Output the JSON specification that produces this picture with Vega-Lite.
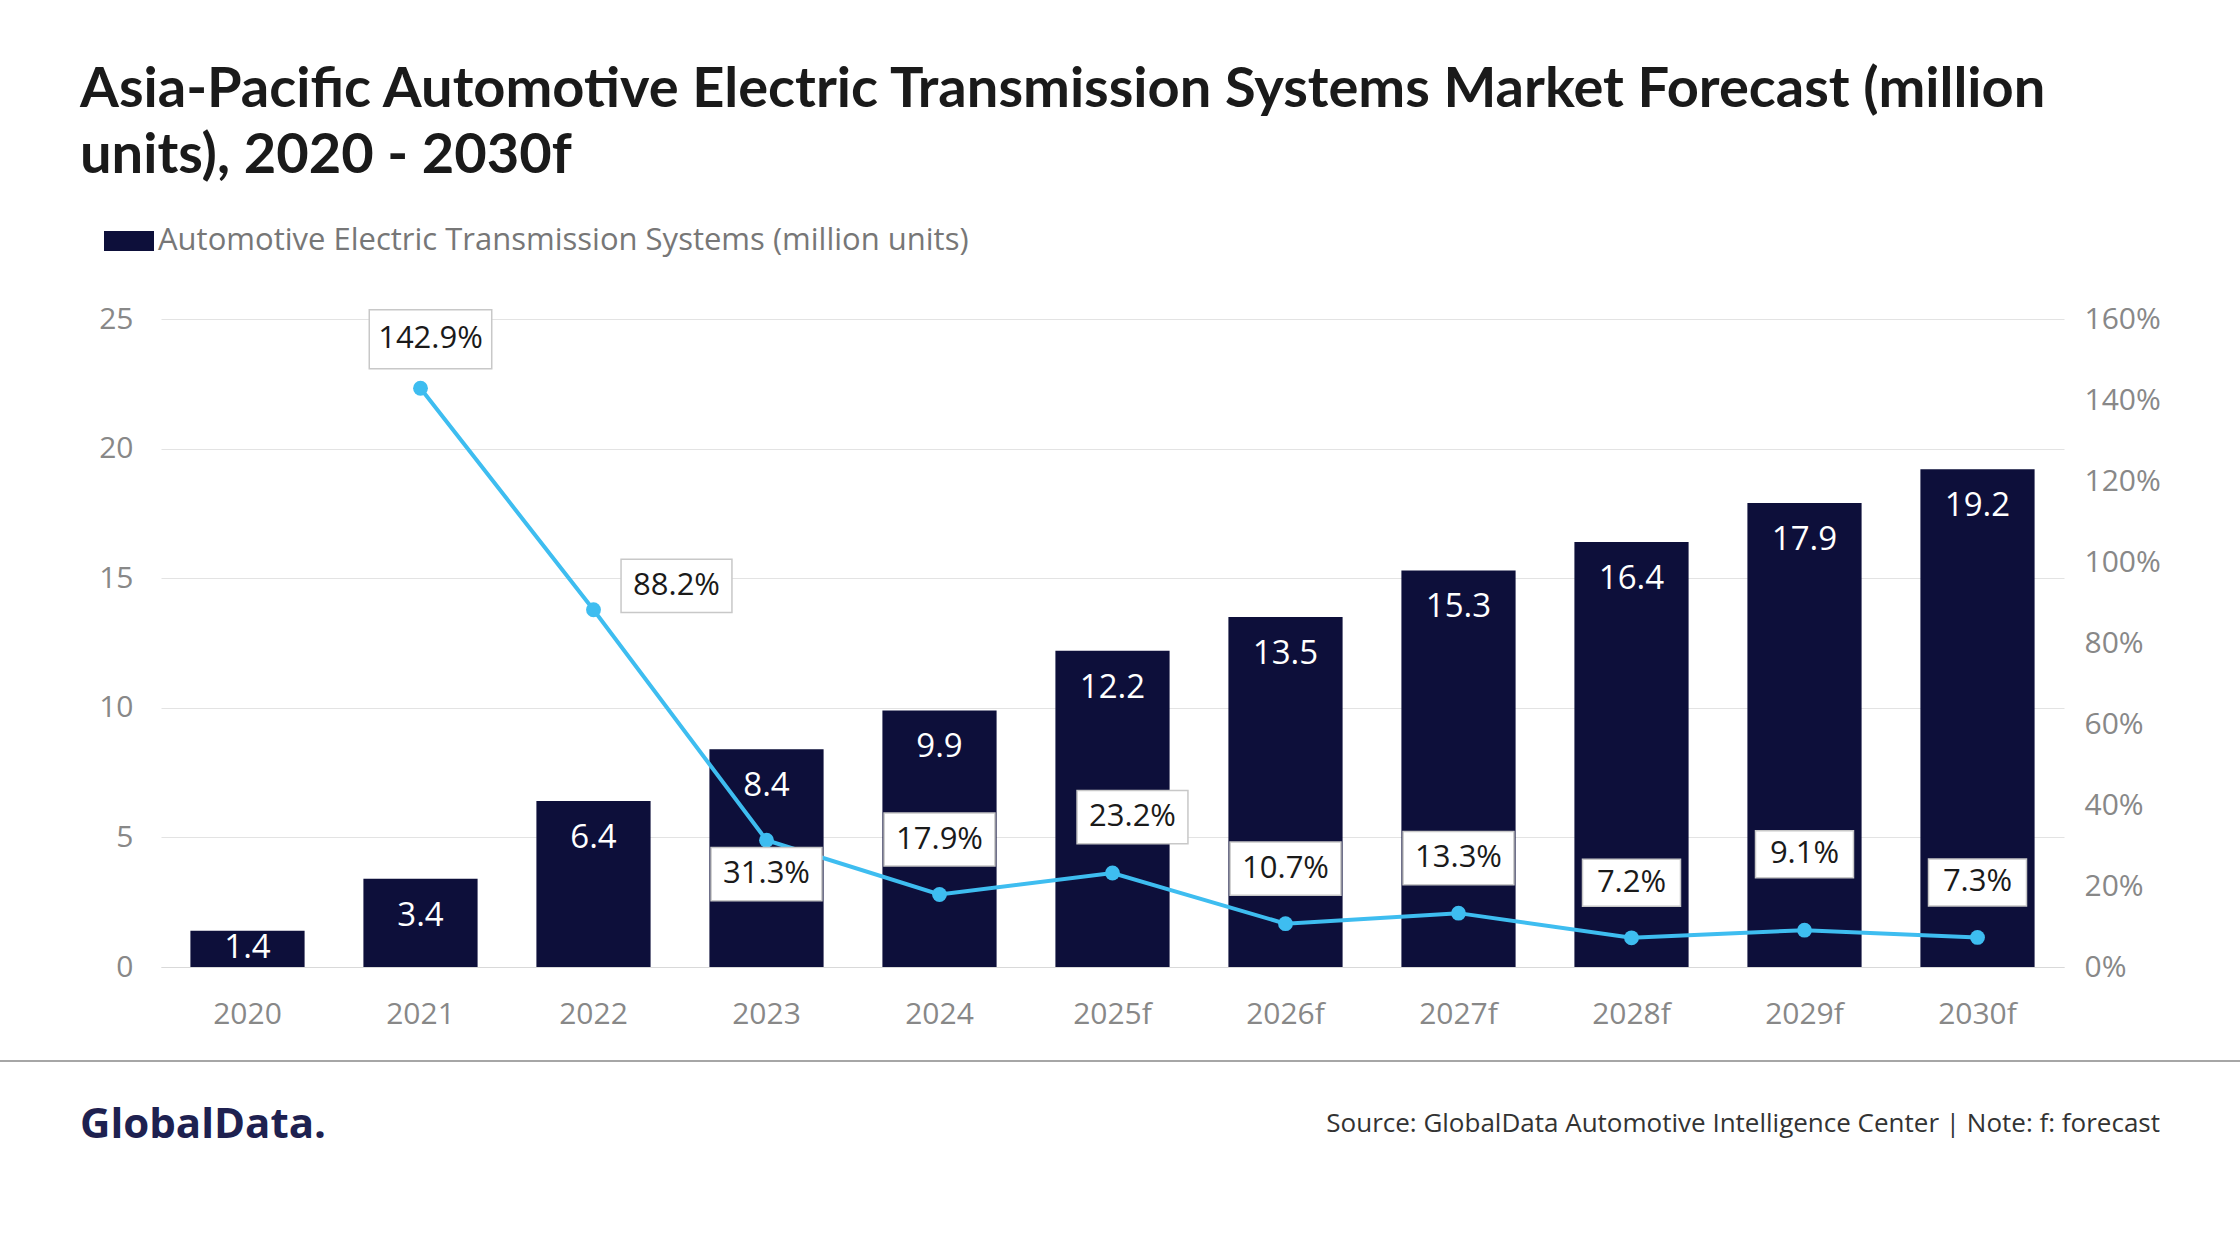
{
  "$schema": "https://vega.github.io/schema/vega-lite/v6.json",
  "width": 1903,
  "height": 648,
  "autosize": "none",
  "padding": {"left": 161, "top": 319, "right": 176, "bottom": 293},
  "background": "white",
  "data": {
    "values": [
      {"year": "2020", "units": 1.4, "growth": null, "lbl": ""},
      {"year": "2021", "units": 3.4, "growth": 142.9, "lbl": "142.9%"},
      {"year": "2022", "units": 6.4, "growth": 88.2, "lbl": "88.2%"},
      {"year": "2023", "units": 8.4, "growth": 31.3, "lbl": "31.3%"},
      {"year": "2024", "units": 9.9, "growth": 17.9, "lbl": "17.9%"},
      {"year": "2025f", "units": 12.2, "growth": 23.2, "lbl": "23.2%"},
      {"year": "2026f", "units": 13.5, "growth": 10.7, "lbl": "10.7%"},
      {"year": "2027f", "units": 15.3, "growth": 13.3, "lbl": "13.3%"},
      {"year": "2028f", "units": 16.4, "growth": 7.2, "lbl": "7.2%"},
      {"year": "2029f", "units": 17.9, "growth": 9.1, "lbl": "9.1%"},
      {"year": "2030f", "units": 19.2, "growth": 7.3, "lbl": "7.3%"}
    ]
  },
  "encoding": {
    "x": {
      "field": "year", "type": "nominal", "sort": null, "title": null,
      "scale": {"paddingInner": 0.34, "paddingOuter": 0.17},
      "axis": {"labelAngle": 0, "ticks": false, "domainColor": "#d9d9d9", "labelPadding": 32, "labelFontSize": 30, "labelColor": "#888888", "labelFont": "Open Sans"}
    }
  },
  "layer": [
    {
      "layer": [
        {
          "mark": {"type": "bar", "color": "#0d0f3a"},
          "encoding": {
            "y": {
              "field": "units", "type": "quantitative", "title": null,
              "scale": {"domain": [0, 25]},
              "axis": {"values": [0, 5, 10, 15, 20, 25], "ticks": false, "domain": false, "gridColor": "#e3e3e3", "labelPadding": 28, "labelFontSize": 30, "labelColor": "#888888", "labelFont": "Open Sans"}
            },
            "color": {
              "datum": "Automotive Electric Transmission Systems (million units)",
              "type": "nominal",
              "scale": {"range": ["#0d0f3a"]},
              "legend": {
                "title": null, "orient": "none", "legendX": -57, "legendY": -103,
                "symbolType": "M-1,-0.4L1,-0.4L1,0.4L-1,0.4Z", "symbolSize": 2500, "symbolStrokeWidth": 0,
                "labelFontSize": 31, "labelColor": "#777777", "labelFont": "Open Sans", "labelOffset": 4, "labelLimit": 1200
              }
            }
          }
        },
        {
          "transform": [{"filter": "datum.year != '2020'"}],
          "mark": {"type": "text", "color": "white", "baseline": "middle", "fontSize": 33, "font": "Open Sans", "yOffset": 37},
          "encoding": {
            "y": {"field": "units", "type": "quantitative", "scale": {"domain": [0, 25]}},
            "text": {"field": "units", "type": "quantitative", "format": ".1f"}
          }
        },
        {
          "transform": [{"filter": "datum.year == '2020'"}],
          "mark": {"type": "text", "color": "white", "baseline": "middle", "fontSize": 33, "font": "Open Sans", "yOffset": 17},
          "encoding": {
            "y": {"field": "units", "type": "quantitative", "scale": {"domain": [0, 25]}},
            "text": {"field": "units", "type": "quantitative", "format": ".1f"}
          }
        }
      ]
    },
    {
      "transform": [{"filter": "datum.growth != null"}],
      "encoding": {
        "y": {
          "field": "growth", "type": "quantitative", "title": null,
          "scale": {"domain": [0, 160]},
          "axis": {"orient": "right", "values": [0, 20, 40, 60, 80, 100, 120, 140, 160], "labelExpr": "datum.value + '%'", "grid": false, "ticks": false, "domain": false, "labelPadding": 20, "labelFontSize": 30, "labelColor": "#888888", "labelFont": "Open Sans"}
        }
      },
      "layer": [
        {"mark": {"type": "line", "color": "#3ebdf0", "strokeWidth": 4}},
        {"mark": {"type": "point", "filled": true, "color": "#3ebdf0", "size": 220, "opacity": 1}},
        {
          "transform": [{"filter": {"field": "year", "oneOf": ["2024", "2026f", "2027f", "2028f", "2030f"]}}],
          "layer": [
            {"mark": {"type": "point", "shape": "M-1,-0.48L1,-0.48L1,0.48L-1,0.48Z", "filled": true, "fill": "white", "stroke": "#c8c8c8", "strokeWidth": 1.5, "opacity": 1, "yOffset": -55},
             "encoding": {"size": {"condition": {"test": "length(datum.lbl) > 4", "value": 12300}, "value": 9600}}},
            {"mark": {"type": "text", "fontSize": 31, "color": "#1a1a1a", "font": "Open Sans", "yOffset": -55}, "encoding": {"text": {"field": "lbl"}}}
          ]
        },
        {
          "transform": [{"filter": "datum.year == '2021'"}],
          "layer": [
            {"mark": {"type": "point", "shape": "M-1,-0.48L1,-0.48L1,0.48L-1,0.48Z", "filled": true, "fill": "white", "stroke": "#c8c8c8", "strokeWidth": 1.5, "opacity": 1, "yOffset": -49, "xOffset": 10, "size": 15000}},
            {"mark": {"type": "text", "fontSize": 31, "color": "#1a1a1a", "font": "Open Sans", "yOffset": -49, "xOffset": 10}, "encoding": {"text": {"field": "lbl"}}}
          ]
        },
        {
          "transform": [{"filter": "datum.year == '2022'"}],
          "layer": [
            {"mark": {"type": "point", "shape": "M-1,-0.48L1,-0.48L1,0.48L-1,0.48Z", "filled": true, "fill": "white", "stroke": "#c8c8c8", "strokeWidth": 1.5, "opacity": 1, "yOffset": -24, "xOffset": 83, "size": 12300}},
            {"mark": {"type": "text", "fontSize": 31, "color": "#1a1a1a", "font": "Open Sans", "yOffset": -24, "xOffset": 83}, "encoding": {"text": {"field": "lbl"}}}
          ]
        },
        {
          "transform": [{"filter": "datum.year == '2023'"}],
          "layer": [
            {"mark": {"type": "point", "shape": "M-1,-0.48L1,-0.48L1,0.48L-1,0.48Z", "filled": true, "fill": "white", "stroke": "#c8c8c8", "strokeWidth": 1.5, "opacity": 1, "yOffset": 34, "size": 12300}},
            {"mark": {"type": "text", "fontSize": 31, "color": "#1a1a1a", "font": "Open Sans", "yOffset": 34}, "encoding": {"text": {"field": "lbl"}}}
          ]
        },
        {
          "transform": [{"filter": "datum.year == '2025f'"}],
          "layer": [
            {"mark": {"type": "point", "shape": "M-1,-0.48L1,-0.48L1,0.48L-1,0.48Z", "filled": true, "fill": "white", "stroke": "#c8c8c8", "strokeWidth": 1.5, "opacity": 1, "yOffset": -56, "xOffset": 20, "size": 12300}},
            {"mark": {"type": "text", "fontSize": 31, "color": "#1a1a1a", "font": "Open Sans", "yOffset": -56, "xOffset": 20}, "encoding": {"text": {"field": "lbl"}}}
          ]
        },
        {
          "transform": [{"filter": "datum.year == '2029f'"}],
          "layer": [
            {"mark": {"type": "point", "shape": "M-1,-0.48L1,-0.48L1,0.48L-1,0.48Z", "filled": true, "fill": "white", "stroke": "#c8c8c8", "strokeWidth": 1.5, "opacity": 1, "yOffset": -76, "size": 9600}},
            {"mark": {"type": "text", "fontSize": 31, "color": "#1a1a1a", "font": "Open Sans", "yOffset": -76}, "encoding": {"text": {"field": "lbl"}}}
          ]
        }
      ]
    },
    {
      "data": {"values": [{"title": ["Asia-Pacific Automotive Electric Transmission Systems Market Forecast (million", "units), 2020 - 2030f"], "logo": "GlobalData.", "src": "Source:  GlobalData Automotive Intelligence Center  |  Note: f: forecast"}]},
      "layer": [
        {
          "mark": {"type": "text", "align": "left", "baseline": "alphabetic", "fontSize": 56, "fontWeight": "bold", "color": "#1a1a1a", "font": "Lato", "lineHeight": 66},
          "encoding": {"text": {"field": "title"}, "x": {"value": -81}, "y": {"value": -212}}
        },
        {
          "mark": {"type": "rule", "color": "#a6a6a6", "strokeWidth": 2},
          "encoding": {"x": {"value": -161}, "x2": {"value": 2079}, "y": {"value": 742}}
        },
        {
          "mark": {"type": "text", "align": "left", "baseline": "middle", "fontSize": 42, "fontWeight": "bold", "color": "#1e2150", "font": "Open Sans"},
          "encoding": {"text": {"field": "logo"}, "x": {"value": -81}, "y": {"value": 806}}
        },
        {
          "mark": {"type": "text", "align": "right", "baseline": "middle", "fontSize": 26, "color": "#333333", "font": "Open Sans"},
          "encoding": {"text": {"field": "src"}, "x": {"value": 1999}, "y": {"value": 805}}
        }
      ]
    }
  ],
  "resolve": {"scale": {"y": "independent"}},
  "config": {"view": {"stroke": null}, "font": "Open Sans"}
}
